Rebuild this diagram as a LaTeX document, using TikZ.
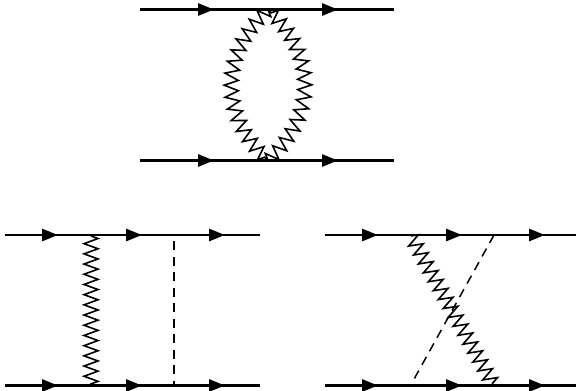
\documentclass[tikz,border=0pt]{standalone}
\usetikzlibrary{arrows.meta,decorations.pathmorphing}
\tikzset{
  fermion/.style={line width=2.8pt,-{Triangle[length=16pt,width=12pt]}},
  fermionend/.style={line width=2.8pt},
  photon/.style={line width=1.6pt,line join=miter,decorate,decoration={zigzag,segment length=10.2pt,amplitude=7pt}},
  scalar/.style={line width=1.5pt,dash pattern=on 9pt off 6.5pt},
}
\begin{document}
\begin{tikzpicture}[x=1pt,y=-1pt]
\useasboundingbox (0,0) rectangle (576,391);
% top
\coordinate (ta0) at (140,9.5); \coordinate (ta1) at (214,9.5); \coordinate (ta2) at (338,9.5); \coordinate (ta3) at (394,9.5);
\coordinate (tb0) at (140,160.5); \coordinate (tb1) at (214,160.5); \coordinate (tb2) at (338,160.5); \coordinate (tb3) at (394,160.5);
\coordinate (lu) at (268,9.5); \coordinate (ld) at (268,160.5);
\draw[fermionend] (ta0)--(ta3); \draw[fermion] (ta0)--(ta1); \draw[fermion] (ta1)--(ta2);
\draw[fermionend] (tb0)--(tb3); \draw[fermion] (tb0)--(tb1); \draw[fermion] (tb1)--(tb2);
\draw[photon,decoration={segment length=11.2pt}] (lu) .. controls (219,55) and (219,115) .. (ld);
\draw[photon,decoration={segment length=11.2pt}] (ld) .. controls (317,115) and (317,55) .. (lu);
% left
\coordinate (la0) at (5,235); \coordinate (la1) at (58,235); \coordinate (la2) at (142,235); \coordinate (la3) at (225,235); \coordinate (la4) at (260,235);
\coordinate (lb0) at (5,385.5); \coordinate (lb1) at (58,385.5); \coordinate (lb2) at (142,385.5); \coordinate (lb3) at (225,385.5); \coordinate (lb4) at (260,385.5);
\coordinate (lpu) at (91,236); \coordinate (lpd) at (91,384); \coordinate (lsu) at (174,241); \coordinate (lsd) at (174,385);
\draw[fermionend] (la0)--(la4); \draw[fermion] (la0)--(la1); \draw[fermion] (la1)--(la2); \draw[fermion] (la2)--(la3);
\draw[fermionend] (lb0)--(lb4); \draw[fermion] (lb0)--(lb1); \draw[fermion] (lb1)--(lb2); \draw[fermion] (lb2)--(lb3);
\draw[photon] (lpu)--(lpd);
\draw[scalar] (lsu)--(lsd);
% right
\coordinate (ra0) at (325,235); \coordinate (ra1) at (378,235); \coordinate (ra2) at (462,235); \coordinate (ra3) at (545,235); \coordinate (ra4) at (576,235);
\coordinate (rb0) at (325,385.5); \coordinate (rb1) at (378,385.5); \coordinate (rb2) at (462,385.5); \coordinate (rb3) at (545,385.5); \coordinate (rb4) at (576,385.5);
\coordinate (rpu) at (411,236); \coordinate (rpd) at (493,384); \coordinate (rsu) at (494,235); \coordinate (rsd) at (413,381);
\draw[fermionend] (ra0)--(ra4); \draw[fermion] (ra0)--(ra1); \draw[fermion] (ra1)--(ra2); \draw[fermion] (ra2)--(ra3);
\draw[fermionend] (rb0)--(rb4); \draw[fermion] (rb0)--(rb1); \draw[fermion] (rb1)--(rb2); \draw[fermion] (rb2)--(rb3);
\draw[photon] (rpu)--(rpd);
\draw[scalar] (rsu)--(rsd);
\end{tikzpicture}
\end{document}
